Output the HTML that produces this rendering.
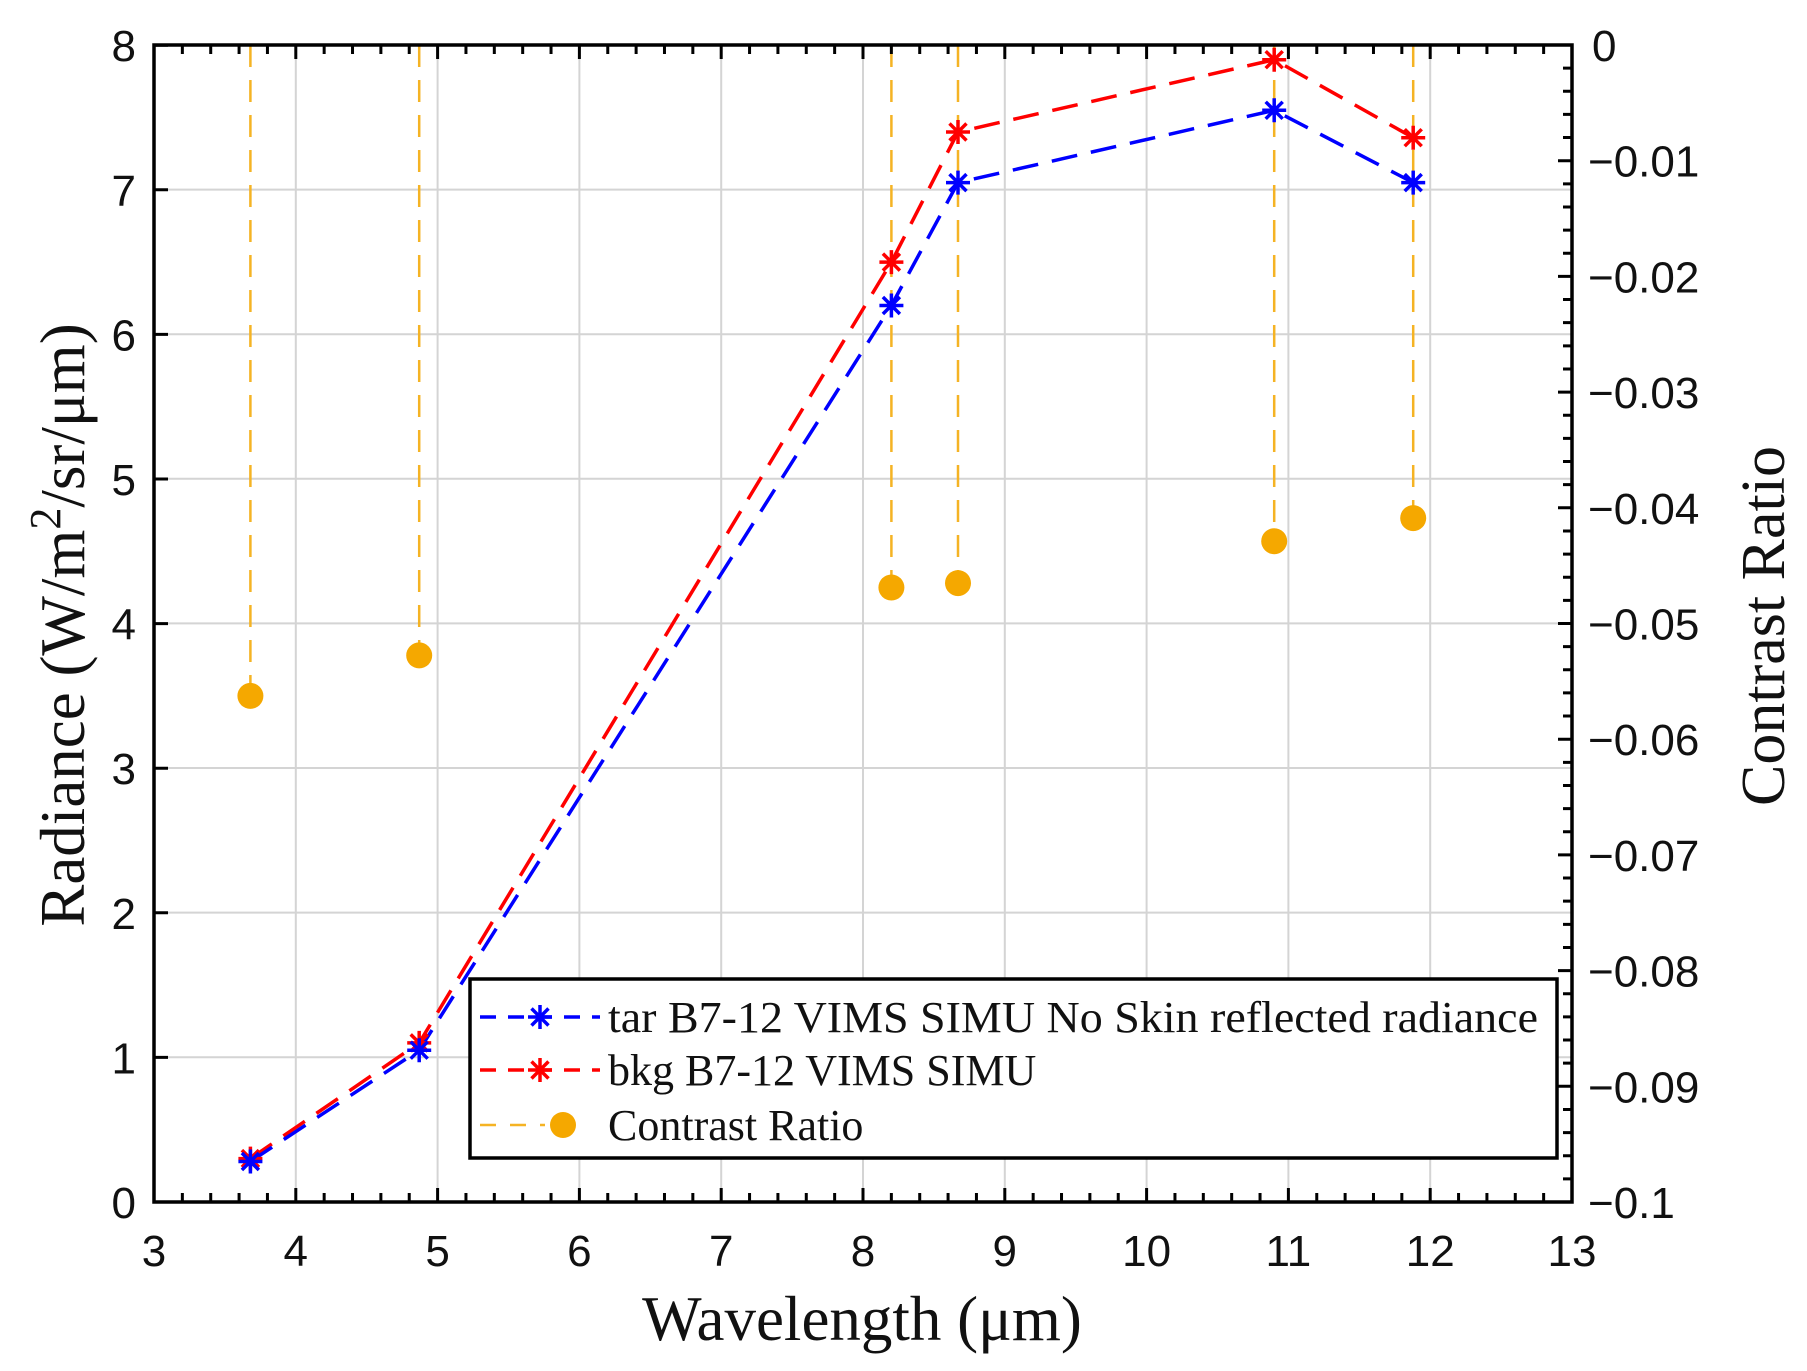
<!DOCTYPE html>
<html><head><meta charset="utf-8"><style>html,body{margin:0;padding:0;background:#fff}svg{display:block}</style></head>
<body>
<svg width="1807" height="1371" viewBox="0 0 1807 1371" xmlns="http://www.w3.org/2000/svg">
<defs>
<g id="ast"><path d="M-12,0H12M0,-12V12M-8.5,-8.5L8.5,8.5M-8.5,8.5L8.5,-8.5" stroke-width="3.5"/></g>
</defs>
<rect width="1807" height="1371" fill="#fff"/>
<g stroke="#d4d4d4" stroke-width="2">
<path d="M295.8,45V1202M437.6,45V1202M579.4,45V1202M721.2,45V1202M863,45V1202M1004.8,45V1202M1146.6,45V1202M1288.4,45V1202M1430.2,45V1202"/>
<path d="M154,189.6H1572M154,334.2H1572M154,478.8H1572M154,623.4H1572M154,768H1572M154,912.6H1572M154,1057.2H1572"/>
</g>
<g stroke="#f5b324" stroke-width="2.5" stroke-dasharray="22,13" fill="none">
<path d="M250.4,45V696M419.2,45V655M891.4,45V587M958,45V583M1274.2,45V541M1413.2,45V518"/>
</g>
<g fill="#f5a800">
<circle cx="250.4" cy="695.9" r="13"/><circle cx="419.2" cy="655.4" r="13"/><circle cx="891.4" cy="587.5" r="13"/><circle cx="958" cy="583.1" r="13"/><circle cx="1274.2" cy="541.2" r="13"/><circle cx="1413.2" cy="518.1" r="13"/>
</g>
<polyline fill="none" stroke="#ff0000" stroke-width="3.5" stroke-dasharray="26,14" points="250.4,1158.6 419.2,1042.9 891.4,262.1 958,132 1274.2,59.7 1413.2,137.7"/>
<polyline fill="none" stroke="#0000ff" stroke-width="3.5" stroke-dasharray="26,14" points="250.4,1161.5 419.2,1050.2 891.4,305.5 958,182.6 1274.2,110.3 1413.2,182.6"/>
<g stroke="#ff0000">
<use href="#ast" x="250.4" y="1158.6"/><use href="#ast" x="419.2" y="1042.9"/><use href="#ast" x="891.4" y="262.1"/><use href="#ast" x="958" y="132"/><use href="#ast" x="1274.2" y="59.7"/><use href="#ast" x="1413.2" y="137.7"/>
</g>
<g stroke="#0000ff">
<use href="#ast" x="250.4" y="1161.5"/><use href="#ast" x="419.2" y="1050.2"/><use href="#ast" x="891.4" y="305.5"/><use href="#ast" x="958" y="182.6"/><use href="#ast" x="1274.2" y="110.3"/><use href="#ast" x="1413.2" y="182.6"/>
</g>
<g id="ticks" stroke="#000" stroke-width="3"></g>
<rect x="154" y="45" width="1418" height="1157" fill="none" stroke="#000" stroke-width="3.5"/>
<!-- legend -->
<rect x="470" y="979" width="1087" height="179" fill="#fff" stroke="#000" stroke-width="3.5"/>
<path d="M480,1017H600" stroke="#0000ff" stroke-width="3.5" stroke-dasharray="16,12"/>
<path d="M480,1070H600" stroke="#ff0000" stroke-width="3.5" stroke-dasharray="16,12"/>
<path d="M480,1125H545" stroke="#f5b324" stroke-width="2.5" stroke-dasharray="16,14"/>
<g stroke="#0000ff"><use href="#ast" x="540" y="1017"/></g>
<g stroke="#ff0000"><use href="#ast" x="540" y="1070"/></g>
<circle cx="563" cy="1125" r="13" fill="#f5a800"/>
<g font-family="'Liberation Serif',serif" font-size="44" fill="#111">
<text x="608" y="1032" textLength="930" lengthAdjust="spacingAndGlyphs">tar B7-12 VIMS SIMU No Skin reflected radiance</text>
<text x="608" y="1085">bkg B7-12 VIMS SIMU</text>
<text x="608" y="1140">Contrast Ratio</text>
</g>
<g font-family="'Liberation Sans',sans-serif" font-size="44" fill="#111" text-anchor="end" id="yl"></g>
<g font-family="'Liberation Sans',sans-serif" font-size="44" fill="#111" text-anchor="middle" id="xl"></g>
<g font-family="'Liberation Sans',sans-serif" font-size="44" fill="#111" id="rl"></g>
<text x="862" y="1340" font-family="'Liberation Serif',serif" font-size="63" text-anchor="middle" fill="#111">Wavelength (μm)</text>
<text transform="translate(84,625) rotate(-90)" font-family="'Liberation Serif',serif" font-size="63" text-anchor="middle" fill="#111">Radiance (W/m<tspan dy="-24" font-size="44">2</tspan><tspan dy="24">/sr/μm)</tspan></text>
<text transform="translate(1784,626) rotate(-90)" font-family="'Liberation Serif',serif" font-size="62" text-anchor="middle" fill="#111">Contrast Ratio</text>
<script>
(function(){
var NS="http://www.w3.org/2000/svg";
function X(v){return 154+(v-3)*141.8}
function Y(v){return 1202-v*144.6}
var d="";
for(var i=0;i<=50;i++){var x=154+i*141.8/5;var L=(i%5==0)?14:9;d+="M"+x+",45v"+L+"M"+x+",1202v-"+L;}
for(var v=0;v<=8;v++){d+="M154,"+Y(v)+"h14";}
for(var j=0;j<=50;j++){var y=45+j*1157/50;var L2=(j%5==0)?14:9;d+="M1572,"+y+"h-"+L2;}
var p=document.createElementNS(NS,"path");p.setAttribute("d",d);document.getElementById("ticks").appendChild(p);
var yl=document.getElementById("yl");
for(var v=0;v<=8;v++){var t=document.createElementNS(NS,"text");t.setAttribute("x",136);t.setAttribute("y",Y(v)+16);t.textContent=v;yl.appendChild(t);}
var xl=document.getElementById("xl");
for(var v=3;v<=13;v++){var t=document.createElementNS(NS,"text");t.setAttribute("x",X(v));t.setAttribute("y",1266);t.textContent=v;xl.appendChild(t);}
var rl=document.getElementById("rl");
var labs=["0","\u22120.01","\u22120.02","\u22120.03","\u22120.04","\u22120.05","\u22120.06","\u22120.07","\u22120.08","\u22120.09","\u22120.1"];
for(var k=0;k<=10;k++){var t=document.createElementNS(NS,"text");t.setAttribute("x",k==0?1592:1588);t.setAttribute("y",45+k*115.7+16);t.textContent=labs[k];rl.appendChild(t);}
})();
</script>
</svg>
</body></html>
